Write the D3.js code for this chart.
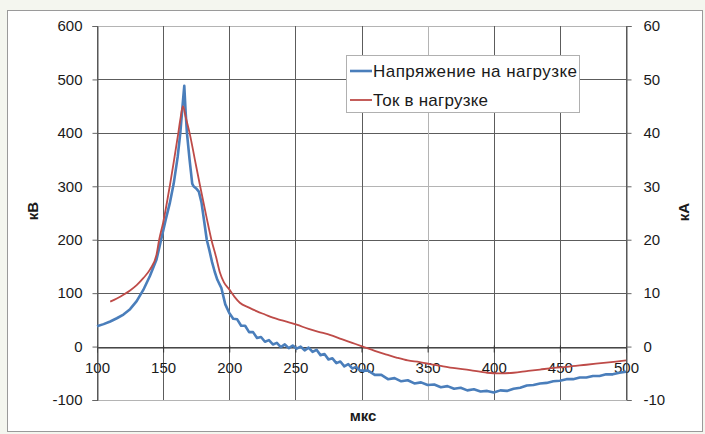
<!DOCTYPE html>
<html>
<head>
<meta charset="utf-8">
<script src="https://cdn.jsdelivr.net/npm/d3@7"></script>
<style>
  html, body { margin: 0; padding: 0; background: #f4f6ef; }
  svg { display: block; }
  text { font-family: "Liberation Sans", Arial, sans-serif; fill: #1a1a1a; }
</style>
</head>
<body>
<svg id="chart" width="705" height="434"></svg>
<script>
// Time axis, microseconds
const xTicks = [100, 150, 200, 250, 300, 350, 400, 450, 500];
const kvTicks = [-100, 0, 100, 200, 300, 400, 500, 600];
const kaTicks = [-10, 0, 10, 20, 30, 40, 50, 60];

// Load voltage, kV (left axis)
const voltageT = [100, 105, 110, 115, 120, 125, 130, 135, 140, 145, 148, 152, 155, 158, 161, 163, 165, 166,
  167, 168, 170, 172, 173, 175, 177, 179, 181, 183, 185, 187, 189, 191, 194, 197,
  200, 203, 206, 209, 212, 215, 218, 221, 224, 227, 230, 233, 236, 239, 242, 245, 248, 251,
  254, 257, 260, 263, 266, 269, 272, 275, 278, 281, 284, 287, 290, 293, 296, 299,
  305, 310, 315, 320, 325, 330, 335, 340, 345, 350, 355, 360, 365, 370, 375, 380, 385, 390, 395,
  400, 405, 410, 415, 420, 425, 430, 435, 440, 445, 450, 455, 460, 465, 470, 475, 480, 485, 490, 495, 500];
const voltageKV = [38, 42, 47, 53, 60, 70, 85, 106, 132, 163, 195, 238, 268, 305, 355, 400, 460, 488,
  440, 400, 350, 305, 300, 296, 290, 270, 235, 200, 180, 158, 140, 125, 110, 79,
  63, 52, 51, 39, 39, 27, 27, 16, 18, 9, 12, 4, 7, -1, 4, -3, 2, -4,
  0, -7, -2, -10, -6, -16, -14, -24, -22, -31, -28, -37, -33, -41, -38, -45,
  -45, -53, -53, -61, -59, -65, -63, -69, -67, -72, -71, -76, -74, -79, -77, -82, -80, -84, -83,
  -86, -82, -83, -79, -77, -73, -72, -69, -68, -65, -64, -61, -61, -58, -58, -55, -55, -52, -52, -49, -47];

// Load current, kA (right axis)
const currentT = [110, 115, 120, 125, 130, 135, 140, 145, 147, 150, 155, 158, 161.5, 163, 165,
  167, 170, 174, 178, 183, 186.5, 190, 193, 196, 200, 204, 208, 215, 221, 227, 233, 240, 251,
  260, 270, 276, 285, 293, 301, 310, 319, 327, 335, 344, 352, 360, 369, 382, 395, 405, 415,
  425, 435, 445, 455, 470, 485, 500];
const currentKA = [8.4, 9.0, 9.7, 10.5, 11.5, 12.8, 14.4, 17.2, 20.0, 23.2, 30.0, 34.5, 40.0, 42.5, 45.0,
  43.0, 40.0, 35.0, 30.0, 24.0, 20.0, 16.8, 13.8, 12.0, 10.7, 9.3, 8.2, 7.3, 6.6, 6.0, 5.4, 4.9, 4.1,
  3.3, 2.6, 2.2, 1.4, 0.7, 0.0, -0.8, -1.5, -2.1, -2.6, -2.9, -3.3, -3.6, -4.0, -4.4, -4.9, -5.0, -4.9,
  -4.6, -4.3, -4.0, -3.8, -3.4, -3.0, -2.6];

const seriesNames = ["Напряжение на нагрузке", "Ток в нагрузке"];
const seriesColors = ["#4a7ebb", "#be4b48"];

const svg = d3.select("#chart");

// chart frame
svg.append("rect")
  .attr("x", 7.5).attr("y", 10.5).attr("width", 695).attr("height", 421)
  .attr("fill", "#ffffff").attr("stroke", "#9a9a9a");

const x = d3.scaleLinear().domain([100, 500]).range([97, 626]);
const yL = d3.scaleLinear().domain([-100, 600]).range([400, 26]);
const yR = d3.scaleLinear().domain([-10, 60]).range([400, 26]);

const px = v => Math.round(v) + 0.5;
const plain = d => String(d);

// horizontal gridlines
const grid = svg.append("g");
grid.selectAll("line.h").data(kvTicks).join("line")
  .attr("x1", x(100)).attr("x2", x(500))
  .attr("y1", d => px(yL(d))).attr("y2", d => px(yL(d)))
  .attr("stroke", d => (d === 600 || d === 300 || d === -100) ? "#b4b4b4" : "#5c5c5c")
  .attr("stroke-width", 1);

// vertical gridlines
grid.selectAll("line.v").data(xTicks).join("line")
  .attr("x1", d => px(x(d))).attr("x2", d => px(x(d)))
  .attr("y1", yL(600)).attr("y2", yL(-100))
  .attr("stroke", d => d === 350 ? "#b4b4b4" : "#5c5c5c")
  .attr("stroke-width", 1);

// x axis through zero
const xAxis = d3.axisBottom(x).tickValues(xTicks).tickFormat(plain).tickSize(5).tickPadding(10);
const gx = svg.append("g").attr("transform", `translate(0,${px(yL(0))})`).call(xAxis);
gx.select(".domain").attr("stroke", "#333");
gx.selectAll(".tick line").attr("stroke", "#333").attr("y1", -2);
gx.selectAll(".tick text").style("font-size", "15px").attr("fill", "#1a1a1a");

// left axis
const yAxisL = d3.axisLeft(yL).tickValues(kvTicks).tickFormat(plain).tickSize(5).tickPadding(10);
const gl = svg.append("g").attr("transform", `translate(${px(x(100))},0)`).call(yAxisL);
gl.select(".domain").attr("stroke", "#555");
gl.selectAll(".tick line").attr("stroke", "#666");
gl.selectAll(".tick text").style("font-size", "15px").attr("fill", "#1a1a1a");

// right axis
const yAxisR = d3.axisRight(yR).tickValues(kaTicks).tickFormat(plain).tickSize(5).tickPadding(12);
const gr = svg.append("g").attr("transform", `translate(${px(x(500))},0)`).call(yAxisR);
gr.select(".domain").attr("stroke", "#555");
gr.selectAll(".tick line").attr("stroke", "#666");
gr.selectAll(".tick text").style("font-size", "15px").attr("fill", "#1a1a1a");

svg.selectAll(".tick text").attr("font-family", "Liberation Sans, Arial, sans-serif");

// axis titles
svg.append("text").attr("x", 363).attr("y", 421).attr("text-anchor", "middle")
  .style("font-size", "15px").style("font-weight", "bold").text("мкс");
svg.append("text").attr("transform", "translate(38,211) rotate(-90)").attr("text-anchor", "middle")
  .style("font-size", "15px").style("font-weight", "bold").text("кВ");
svg.append("text").attr("transform", "translate(689,212) rotate(-90)").attr("text-anchor", "middle")
  .style("font-size", "15px").style("font-weight", "bold").text("кА");

// series lines
const voltage = voltageT.map((t, i) => [t, voltageKV[i]]);
const current = currentT.map((t, i) => [t, currentKA[i]]);

svg.append("path").datum(voltage)
  .attr("fill", "none").attr("stroke", seriesColors[0]).attr("stroke-width", 2.6)
  .attr("stroke-linejoin", "round")
  .attr("d", d3.line().x(d => x(d[0])).y(d => yL(d[1])));

svg.append("path").datum(current)
  .attr("fill", "none").attr("stroke", seriesColors[1]).attr("stroke-width", 1.8)
  .attr("stroke-linejoin", "round")
  .attr("d", d3.line().curve(d3.curveMonotoneX).x(d => x(d[0])).y(d => yR(d[1])));

// legend
const lg = svg.append("g");
lg.append("rect").attr("x", 346.5).attr("y", 55.5).attr("width", 233).attr("height", 57)
  .attr("fill", "#ffffff").attr("stroke", "#b0b0b0");
const legendWidths = [204, 115];
seriesNames.forEach((name, i) => {
  const yy = 71 + i * 29;
  lg.append("line").attr("x1", 350).attr("x2", 372).attr("y1", yy).attr("y2", yy)
    .attr("stroke", seriesColors[i]).attr("stroke-width", i === 0 ? 2.6 : 1.8);
  lg.append("text").attr("x", 373).attr("y", yy + 6).style("font-size", "17px")
    .attr("textLength", legendWidths[i]).attr("lengthAdjust", "spacing").text(name);
});
</script>
</body>
</html>
